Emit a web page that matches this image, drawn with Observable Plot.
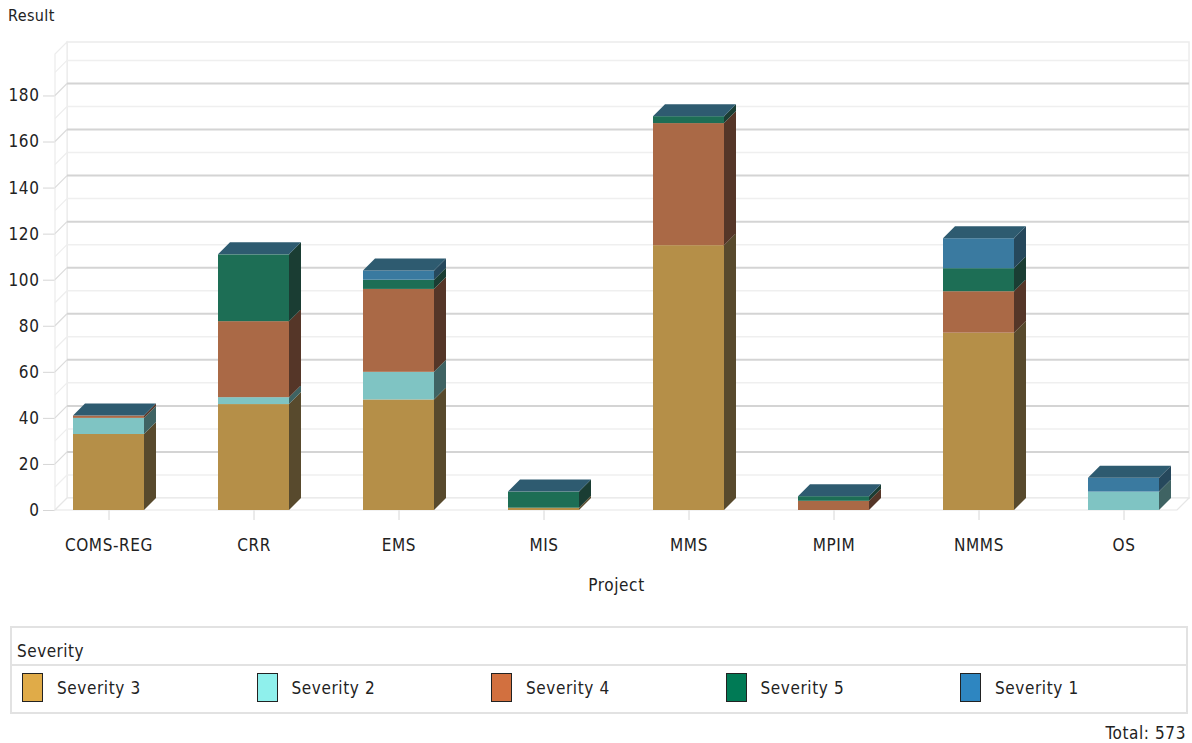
<!DOCTYPE html>
<html><head><meta charset="utf-8">
<script src="https://cdn.jsdelivr.net/npm/d3@7"></script>
<script src="https://cdn.jsdelivr.net/npm/@observablehq/plot@0.6"></script>
<style>
body{margin:0;background:#fff;font-family:"Liberation Sans Narrow","DejaVu Sans Condensed","Liberation Sans",sans-serif;color:#222;}
#wrap{position:relative;width:1192px;height:743px;overflow:hidden;}
#chart{position:absolute;left:0;top:0;}
.ytitle{position:absolute;left:8px;top:6px;font-size:16px;letter-spacing:0.4px;}
.legend{position:absolute;left:10px;top:626px;width:1174px;height:84px;border:2px solid #e2e2e2;}
.legend .head{height:36px;border-bottom:2px solid #e2e2e2;font-size:17px;letter-spacing:0.5px;line-height:46px;padding-left:5px;}
.legend .item{position:absolute;top:44px;height:30px;font-size:17px;letter-spacing:0.6px;line-height:32px;}
.legend .sw{position:absolute;left:0;top:1px;width:21px;height:29px;border:1.5px solid #222;box-sizing:border-box;}
.legend .lab{position:absolute;left:35px;top:0;white-space:nowrap;}
.total{position:absolute;right:6px;top:723px;font-size:17px;letter-spacing:0.6px;}
</style></head><body><div id="wrap"><div id="chart"></div></div>
<script>
const projects = ["COMS-REG","CRR","EMS","MIS","MMS","MPIM","NMMS","OS"];
const severities = ["Severity 3","Severity 2","Severity 4","Severity 5","Severity 1"];
const sev3 = [33,46,48,1,115,0,77,0];
const sev2 = [7,3,12,0,0,0,0,8];
const sev4 = [1,33,36,0,53,4,18,0];
const sev5 = [0,29,4,7,3,2,10,0];
const sev1 = [0,0,4,0,0,0,13,6];
const yTicks = [0,20,40,60,80,100,120,140,160,180];
const gridValues = d3.range(10, 200, 10);
const yMax = 198;
const yTitle = "Result";
const xTitle = "Project";
const legendTitle = "Severity";

const frontColors = ["#b58f48","#7fc4c3","#aa6946","#1d6e55","#3a7aa0"];
const sideColors = ["#584a2d","#3f6363","#553628","#1a3d33","#26485c"];
const legendColors = ["#e0ab48","#8ff0ec","#d2703f","#007a55","#2e86c1"];
const topColor = "#2e5b70";
const D = 12;

const series = [sev3, sev2, sev4, sev5, sev1];
const table = [];
projects.forEach((p, i) => series.forEach((s, k) => table.push({project: p, severity: severities[k], value: s[i]})));
const total = d3.sum(series, s => d3.sum(s));

function walls(index, scales, values, dims) {
  const y = scales.y;
  const x0 = dims.marginLeft, x1 = dims.width - dims.marginRight;
  const yb = dims.height - dims.marginBottom, yt = dims.marginTop;
  const g = d3.create("svg:g");
  g.append("rect").attr("x", x0 + D).attr("y", yt - D).attr("width", x1 - x0).attr("height", yb - yt)
    .attr("fill", "#fff").attr("stroke", "#ececec").attr("stroke-width", 1.5);
  g.append("path").attr("d", `M${x0},${yb}L${x0},${yt}L${x0 + D},${yt - D}L${x0 + D},${yb - D}Z`)
    .attr("fill", "#fff").attr("stroke", "#ececec").attr("stroke-width", 1.2);
  g.append("path").attr("d", `M${x0},${yb}L${x0 + D},${yb - D}L${x1 + D},${yb - D}L${x1},${yb}Z`)
    .attr("fill", "#fff").attr("stroke", "#e6e6e6").attr("stroke-width", 1.2);
  for (const v of gridValues) {
    const major = v % 20 === 0;
    const yy = y(v);
    g.append("line").attr("x1", x0 + D).attr("x2", x1 + D).attr("y1", yy - D).attr("y2", yy - D)
      .attr("stroke", major ? "#d4d4d4" : "#efefef").attr("stroke-width", major ? 2 : 1.5);
    g.append("line").attr("x1", x0).attr("x2", x0 + D).attr("y1", yy).attr("y2", yy - D)
      .attr("stroke", major ? "#dcdcdc" : "#eeeeee").attr("stroke-width", 1.2);
  }
  return g.node();
}

function bars3d(index, scales) {
  const x = scales.x, y = scales.y;
  const bw = x.bandwidth ? x.bandwidth() : 72;
  const g = d3.create("svg:g");
  projects.forEach((p, i) => {
    const xl = x(p), xr = xl + bw;
    let cum = 0;
    series.forEach((s, k) => {
      const v = s[i];
      if (!v) return;
      const ya = y(cum), yb = y(cum + v);
      g.append("path").attr("d", `M${xr},${ya}L${xr + D},${ya - D}L${xr + D},${yb - D}L${xr},${yb}Z`)
        .attr("fill", sideColors[k]);
      cum += v;
    });
    const yt = y(cum);
    g.append("path").attr("d", `M${xl},${yt}L${xl + D},${yt - D}L${xr + D},${yt - D}L${xr},${yt}Z`)
      .attr("fill", topColor);
  });
  return g.node();
}

const chart = Plot.plot({
  width: 1192,
  height: 600,
  marginLeft: 55,
  marginRight: 15,
  marginTop: 54,
  marginBottom: 90,
  style: {fontFamily: '"Liberation Sans Narrow","DejaVu Sans Condensed","Liberation Sans",sans-serif', fontSize: "17px", color: "#222", letterSpacing: "0.6px", background: "#fff"},
  x: {domain: projects, paddingInner: 0.51, paddingOuter: 0.1, tickSize: 10, tickPadding: 18, label: null},
  y: {domain: [0, yMax], ticks: yTicks, tickSize: 12, tickPadding: 4, label: null},
  color: {domain: severities, range: frontColors},
  marks: [
    walls,
    Plot.rectY(table, {x: "project", y: "value", fill: "severity"}),
    bars3d,
    Plot.text([xTitle], {frameAnchor: "bottom", dy: 80, text: d => d, fontSize: 17})
  ]
});
d3.select(chart).selectAll('[aria-label^="y-axis"] line, [aria-label^="y-axis"] path, [aria-label^="x-axis"] line, [aria-label^="x-axis"] path')
  .attr("stroke", "#d6d6d6");
document.getElementById("chart").appendChild(chart);

const wrap = d3.select("#wrap");
wrap.append("div").attr("class", "ytitle").text(yTitle);
const leg = wrap.append("div").attr("class", "legend");
leg.append("div").attr("class", "head").text(legendTitle);
severities.forEach((s, k) => {
  const it = leg.append("div").attr("class", "item").style("left", (10 + k * 234.5) + "px");
  it.append("div").attr("class", "sw").style("background", legendColors[k]);
  it.append("div").attr("class", "lab").text(s);
});
wrap.append("div").attr("class", "total").text("Total: " + total);
</script></body></html>
